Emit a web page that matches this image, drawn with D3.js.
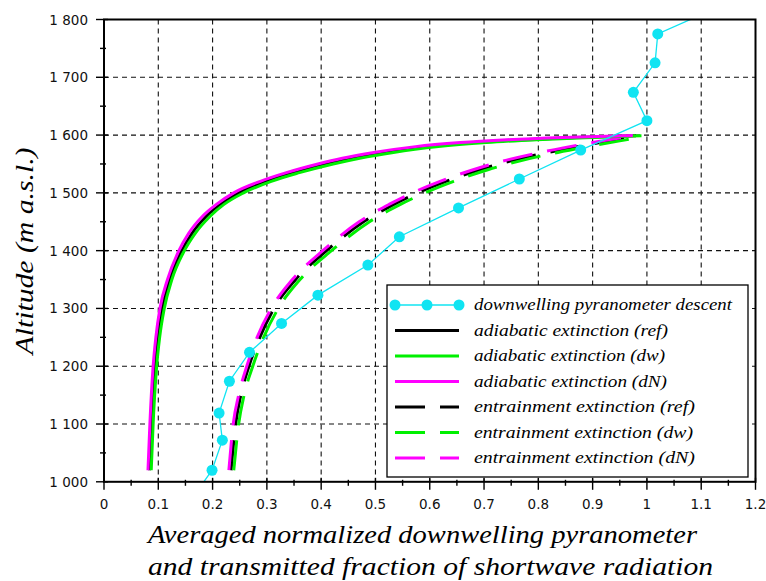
<!DOCTYPE html>
<html>
<head>
<meta charset="utf-8">
<script src="https://cdn.jsdelivr.net/npm/d3@7"></script>
<style>
  body { margin: 0; background: #fff; }
  svg { display: block; }
</style>
</head>
<body>
<div id="chart"></div>
<script>
// Values: [transmitted fraction, altitude in m]
const pyranometer = [[0.165, 975], [0.199, 1020], [0.218, 1072], [0.212, 1119], [0.231, 1174],
  [0.268, 1224], [0.327, 1274], [0.394, 1323], [0.486, 1375], [0.544, 1424], [0.653, 1474],
  [0.765, 1524], [0.878, 1574], [1.0, 1625], [0.975, 1674], [1.015, 1725], [1.02, 1775], [1.14, 1825]];

const adiabaticRef = [[0.084, 1020], [0.0875, 1100], [0.094, 1200], [0.099, 1250], [0.107, 1300],
  [0.121, 1350], [0.143, 1400], [0.162, 1430], [0.189, 1460], [0.214, 1480], [0.248, 1500],
  [0.298, 1520], [0.348, 1535], [0.408, 1550], [0.455, 1560], [0.515, 1570], [0.595, 1580],
  [0.680, 1587], [0.770, 1592], [0.870, 1596], [0.980, 1599]];
const adiabaticDw = [[0.087, 1020], [0.0905, 1100], [0.097, 1200], [0.1025, 1250], [0.111, 1300],
  [0.125, 1350], [0.148, 1400], [0.168, 1430], [0.196, 1460], [0.221, 1480], [0.257, 1500],
  [0.308, 1520], [0.360, 1535], [0.422, 1550], [0.471, 1560], [0.533, 1570], [0.616, 1580],
  [0.704, 1587], [0.797, 1592], [0.900, 1596], [0.990, 1599]];
const adiabaticDN = [[0.081, 1020], [0.0845, 1100], [0.0905, 1200], [0.0955, 1250], [0.103, 1300],
  [0.117, 1350], [0.138, 1400], [0.156, 1430], [0.182, 1460], [0.207, 1480], [0.239, 1500],
  [0.288, 1520], [0.336, 1535], [0.394, 1550], [0.439, 1560], [0.497, 1570], [0.574, 1580],
  [0.656, 1587], [0.743, 1592], [0.845, 1596], [0.974, 1599.3]];

const entrainRef = [[0.234, 1020], [0.2425, 1100], [0.252, 1150], [0.267, 1200], [0.287, 1250],
  [0.313, 1300], [0.353, 1350], [0.410, 1400], [0.478, 1450], [0.534, 1480], [0.578, 1500],
  [0.630, 1520], [0.692, 1540], [0.748, 1555], [0.818, 1570], [0.872, 1580], [0.930, 1590],
  [0.980, 1598]];
const entrainDw = [[0.239, 1020], [0.248, 1100], [0.258, 1150], [0.274, 1200], [0.294, 1250],
  [0.321, 1300], [0.361, 1350], [0.419, 1400], [0.489, 1450], [0.546, 1480], [0.591, 1500],
  [0.644, 1520], [0.707, 1540], [0.765, 1555], [0.836, 1570], [0.891, 1580], [0.950, 1590],
  [0.993, 1597]];
const entrainDN = [[0.230, 1020], [0.238, 1100], [0.248, 1150], [0.263, 1200], [0.282, 1250],
  [0.308, 1300], [0.347, 1350], [0.403, 1400], [0.470, 1450], [0.525, 1480], [0.568, 1500],
  [0.619, 1520], [0.680, 1540], [0.735, 1555], [0.804, 1570], [0.858, 1580], [0.918, 1590],
  [0.975, 1599]];

const xTicks = [0, 0.1, 0.2, 0.3, 0.4, 0.5, 0.6, 0.7, 0.8, 0.9, 1, 1.1, 1.2];
const xTickLabels = ["0", "0.1", "0.2", "0.3", "0.4", "0.5", "0.6", "0.7", "0.8", "0.9", "1", "1.1", "1.2"];
const yTicks = [1000, 1100, 1200, 1300, 1400, 1500, 1600, 1700, 1800];
const yTickLabels = ["1 000", "1 100", "1 200", "1 300", "1 400", "1 500", "1 600", "1 700", "1 800"];

const legendLabels = ["downwelling pyranometer descent", "adiabatic extinction (ref)",
  "adiabatic extinction (dw)", "adiabatic extinction (dN)", "entrainment extinction (ref)",
  "entrainment extinction (dw)", "entrainment extinction (dN)"];

const W = 766, H = 581;
const plotL = 104, plotR = 755.5, plotT = 19.5, plotB = 481.8;
const serif = "'Liberation Serif', 'Times New Roman', serif";

const svg = d3.select("#chart").append("svg")
  .attr("width", W).attr("height", H);
svg.append("rect").attr("width", W).attr("height", H).attr("fill", "#fff");

const x = d3.scaleLinear().domain([0, 1.2]).range([plotL, plotR]);
const y = d3.scaleLinear().domain([1000, 1800]).range([plotB, plotT]);

svg.append("clipPath").attr("id", "plot-clip")
  .append("rect").attr("x", plotL).attr("y", plotT)
  .attr("width", plotR - plotL).attr("height", plotB - plotT);

// grid
const grid = svg.append("g").attr("stroke", "#111").attr("stroke-width", 1.1)
  .attr("stroke-dasharray", "5,4");
grid.selectAll(".gx").data(xTicks.slice(1, -1)).enter().append("line")
  .attr("x1", d => x(d)).attr("x2", d => x(d)).attr("y1", plotT).attr("y2", plotB);
grid.selectAll(".gy").data(yTicks.slice(1, -1)).enter().append("line")
  .attr("x1", plotL).attr("x2", plotR).attr("y1", d => y(d)).attr("y2", d => y(d));

// curves
const plot = svg.append("g").attr("clip-path", "url(#plot-clip)");
const smooth = d3.line().x(d => x(d[0])).y(d => y(d[1])).curve(d3.curveMonotoneX);

const green = "#00f000", magenta = "#ff00ff";
const series = [
  { data: entrainRef, color: "#000", dash: "30,15" },
  { data: entrainDw, color: green, dash: "30,15" },
  { data: entrainDN, color: magenta, dash: "30,15" },
  { data: adiabaticRef, color: "#000", dash: null },
  { data: adiabaticDw, color: green, dash: null },
  { data: adiabaticDN, color: magenta, dash: null }
];
series.forEach(s => {
  plot.append("path").datum(s.data)
    .attr("d", smooth)
    .attr("fill", "none")
    .attr("stroke", s.color)
    .attr("stroke-width", 3)
    .attr("stroke-dasharray", s.dash);
});

const cyan = "#10e4f2";
plot.append("path").datum(pyranometer)
  .attr("d", d3.line().x(d => x(d[0])).y(d => y(d[1])))
  .attr("fill", "none").attr("stroke", cyan).attr("stroke-width", 1.3);
plot.selectAll(".pt").data(pyranometer).enter().append("circle")
  .attr("cx", d => x(d[0])).attr("cy", d => y(d[1])).attr("r", 5.5)
  .attr("fill", cyan);

// frame
svg.append("rect").attr("x", plotL).attr("y", plotT)
  .attr("width", plotR - plotL).attr("height", plotB - plotT)
  .attr("fill", "none").attr("stroke", "#000").attr("stroke-width", 2);

// ticks
const ticks = svg.append("g").attr("stroke", "#000").attr("stroke-width", 1.4);
ticks.selectAll(".tx").data(xTicks).enter().append("line")
  .attr("x1", d => x(d)).attr("x2", d => x(d)).attr("y1", plotB - 4).attr("y2", plotB + 8);
ticks.selectAll(".mx").data(xTicks.slice(0, -1).map(d => d + 0.05)).enter().append("line")
  .attr("x1", d => x(d)).attr("x2", d => x(d)).attr("y1", plotB - 2).attr("y2", plotB + 4);
ticks.selectAll(".ty").data(yTicks).enter().append("line")
  .attr("x1", plotL - 8).attr("x2", plotL + 4).attr("y1", d => y(d)).attr("y2", d => y(d));
ticks.selectAll(".my").data(yTicks.slice(0, -1).map(d => d + 50)).enter().append("line")
  .attr("x1", plotL - 4).attr("x2", plotL + 2).attr("y1", d => y(d)).attr("y2", d => y(d));

const tickFont = "'DejaVu Sans', sans-serif";
svg.selectAll(".xl").data(xTicks).enter().append("text")
  .attr("x", d => x(d)).attr("y", 509)
  .attr("text-anchor", "middle").attr("font-family", tickFont).attr("font-size", 13.5)
  .attr("fill", "#111")
  .text((d, i) => xTickLabels[i]);
svg.selectAll(".yl").data(yTicks).enter().append("text")
  .attr("x", 88).attr("y", d => y(d) + 5)
  .attr("text-anchor", "end").attr("font-family", tickFont).attr("font-size", 13.5)
  .attr("fill", "#111")
  .text((d, i) => yTickLabels[i]);

// axis titles
svg.append("text").attr("x", 148).attr("y", 543)
  .attr("font-family", serif).attr("font-style", "italic").attr("font-size", 26)
  .attr("textLength", 549).attr("lengthAdjust", "spacingAndGlyphs")
  .text("Averaged normalized downwelling pyranometer");
svg.append("text").attr("x", 148).attr("y", 575)
  .attr("font-family", serif).attr("font-style", "italic").attr("font-size", 26)
  .attr("textLength", 565).attr("lengthAdjust", "spacingAndGlyphs")
  .text("and transmitted fraction of shortwave radiation");
svg.append("text")
  .attr("transform", "translate(33,251) rotate(-90)")
  .attr("text-anchor", "middle")
  .attr("font-family", serif).attr("font-style", "italic").attr("font-size", 26)
  .attr("textLength", 207).attr("lengthAdjust", "spacingAndGlyphs")
  .text("Altitude (m a.s.l.)");

// legend
const lg = svg.append("g");
lg.append("rect").attr("x", 387).attr("y", 285).attr("width", 361).attr("height", 192)
  .attr("fill", "#fff").attr("stroke", "#000").attr("stroke-width", 1.3);
const legendRows = [
  { color: cyan, dash: null, marker: true },
  { color: "#000", dash: null }, { color: green, dash: null }, { color: magenta, dash: null },
  { color: "#000", dash: "30,15" }, { color: green, dash: "30,15" }, { color: magenta, dash: "30,15" }
];
const legendWidths = [258, 194, 191, 193, 221, 219, 221];
legendRows.forEach((r, i) => {
  const cy = 305 + i * 25.5;
  lg.append("line").attr("x1", 395).attr("x2", 459).attr("y1", cy).attr("y2", cy)
    .attr("stroke", r.color).attr("stroke-width", r.marker ? 1.3 : 3)
    .attr("stroke-dasharray", r.dash);
  if (r.marker) {
    [395, 427, 459].forEach(mx => lg.append("circle").attr("cx", mx).attr("cy", cy)
      .attr("r", 5.5).attr("fill", cyan));
  }
  lg.append("text").attr("x", 474).attr("y", cy + 5)
    .attr("font-family", serif).attr("font-style", "italic").attr("font-size", 17.5)
    .attr("textLength", legendWidths[i]).attr("lengthAdjust", "spacingAndGlyphs")
    .attr("fill", "#000")
    .text(legendLabels[i]);
});
</script>
</body>
</html>
